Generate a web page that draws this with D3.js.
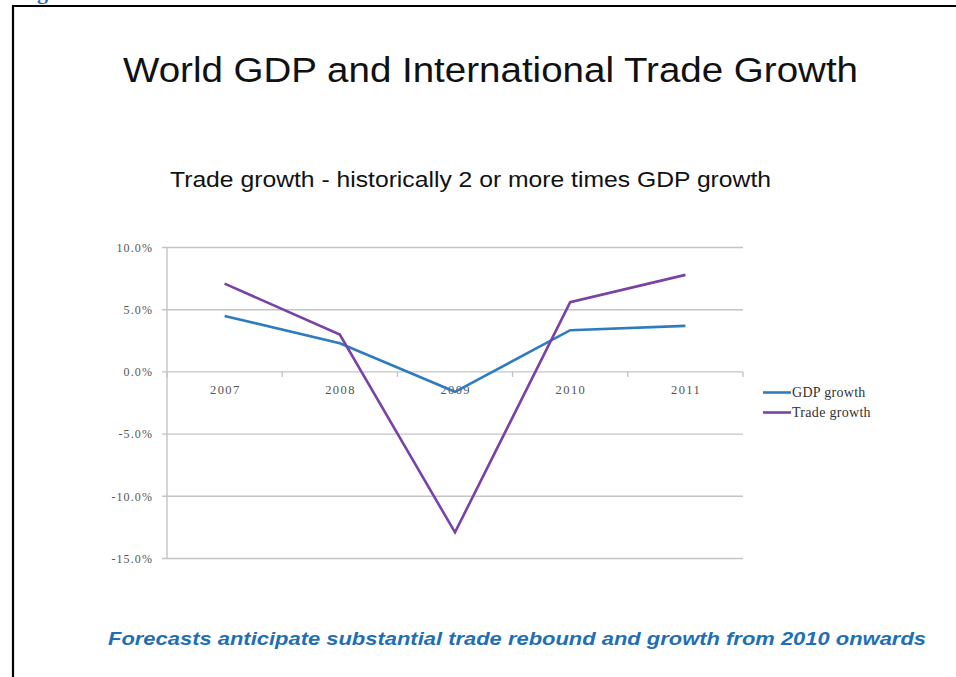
<!DOCTYPE html>
<html>
<head>
<meta charset="utf-8">
<script src="https://cdn.jsdelivr.net/npm/d3@7"></script>
<style>
  html, body { margin: 0; padding: 0; background: #fff; }
  svg { display: block; }
</style>
</head>
<body>
<script>
// World GDP vs. international trade growth, annual % change
const years = ["2007", "2008", "2009", "2010", "2011"];
const gdpGrowth = [4.5, 2.3, -1.6, 3.35, 3.7];
const tradeGrowth = [7.1, 3.0, -12.9, 5.6, 7.8];
const yTicks = [10, 5, 0, -5, -10, -15];
const seriesNames = ["GDP growth", "Trade growth"];

(function draw() {
  const W = 956, H = 677;
  const svg = d3.select("body").append("svg").attr("width", W).attr("height", H);
  const sans = "Liberation Sans, Arial, sans-serif";
  const serif = "Liberation Serif, DejaVu Serif, serif";

  // slide frame (left and top edges) and the clipped caption descender
  svg.append("text").attr("x", 37).attr("y", -1)
    .attr("font-family", serif).attr("font-weight", "bold")
    .attr("font-size", 22).attr("fill", "#1f6fb5").text("g");
  svg.append("line").attr("x1", 13).attr("x2", 13).attr("y1", 5).attr("y2", H)
    .attr("stroke", "#000").attr("stroke-width", 2.2);
  svg.append("line").attr("x1", 12).attr("x2", W).attr("y1", 6).attr("y2", 6)
    .attr("stroke", "#000").attr("stroke-width", 2.2);

  // titles (the slide text is set slightly wide)
  svg.append("text").attr("x", 123).attr("y", 82)
    .attr("font-family", sans).attr("font-size", 35.5)
    .attr("textLength", 735).attr("lengthAdjust", "spacingAndGlyphs")
    .attr("fill", "#111").text("World GDP and International Trade Growth");
  svg.append("text").attr("x", 170).attr("y", 187)
    .attr("font-family", sans).attr("font-size", 21.5)
    .attr("textLength", 601).attr("lengthAdjust", "spacingAndGlyphs")
    .attr("fill", "#111").text("Trade growth - historically 2 or more times GDP growth");
  svg.append("text").attr("x", 108).attr("y", 645)
    .attr("font-family", sans).attr("font-size", 19)
    .attr("textLength", 818).attr("lengthAdjust", "spacingAndGlyphs")
    .attr("font-weight", "bold").attr("font-style", "italic")
    .attr("fill", "#1f6fb5")
    .text("Forecasts anticipate substantial trade rebound and growth from 2010 onwards");

  // plot area
  const pL = 167, pR = 743, pT = 247.5, pB = 558.5;
  const x = d3.scaleBand().domain(years).range([pL, pR]);
  const y = d3.scaleLinear().domain([-15, 10]).range([pB, pT]);

  const g = svg.append("g");

  // horizontal gridlines with small left ticks
  g.selectAll("line.grid").data(yTicks).join("line")
    .attr("class", "grid")
    .attr("x1", pL - 5).attr("x2", pR)
    .attr("y1", d => y(d)).attr("y2", d => y(d))
    .attr("stroke", "#c4c4c4").attr("stroke-width", 1.4);

  // vertical axis
  g.append("line").attr("x1", pL).attr("x2", pL).attr("y1", pT).attr("y2", pB)
    .attr("stroke", "#c4c4c4").attr("stroke-width", 1.4);

  // y tick labels
  g.selectAll("text.ytick").data(yTicks).join("text")
    .attr("class", "ytick")
    .attr("x", pL - 14).attr("y", d => y(d)).attr("dy", "0.35em")
    .attr("text-anchor", "end")
    .attr("font-family", serif).attr("font-size", 12)
    .attr("letter-spacing", 1.1)
    .attr("fill", "#555")
    .text(d => d.toFixed(1) + "%");

  // category axis along zero, with tick marks at band edges
  const edges = years.map(d => x(d)).concat([pR]);
  g.selectAll("line.xtick").data(edges).join("line")
    .attr("class", "xtick")
    .attr("x1", d => d).attr("x2", d => d)
    .attr("y1", y(0)).attr("y2", y(0) + 5)
    .attr("stroke", "#c4c4c4").attr("stroke-width", 1.4);
  g.selectAll("text.xlabel").data(years).join("text")
    .attr("class", "xlabel")
    .attr("x", d => x(d) + x.bandwidth() / 2 + 0.7).attr("y", y(0) + 22)
    .attr("text-anchor", "middle")
    .attr("font-family", serif).attr("font-size", 12.5)
    .attr("letter-spacing", 1.4)
    .attr("fill", "#555")
    .text(d => d);

  // series lines
  const colors = ["#2f7bbf", "#7842a6"];
  const line = d3.line()
    .x((d, i) => x(years[i]) + x.bandwidth() / 2)
    .y(d => y(d));
  [gdpGrowth, tradeGrowth].forEach((s, k) => {
    g.append("path").datum(s).attr("d", line)
      .attr("fill", "none").attr("stroke", colors[k]).attr("stroke-width", 2.6)
      .attr("stroke-linejoin", "miter");
  });

  // legend
  const leg = svg.append("g");
  seriesNames.forEach((name, k) => {
    const ly = 392.5 + k * 20;
    leg.append("line").attr("x1", 763).attr("x2", 791).attr("y1", ly).attr("y2", ly)
      .attr("stroke", colors[k]).attr("stroke-width", 2.6);
    leg.append("text").attr("x", 792).attr("y", ly).attr("dy", "0.35em")
      .attr("font-family", serif).attr("font-size", 14)
      .attr("letter-spacing", 0.3)
      .attr("fill", "#333").text(name);
  });
})();
</script>
</body>
</html>
